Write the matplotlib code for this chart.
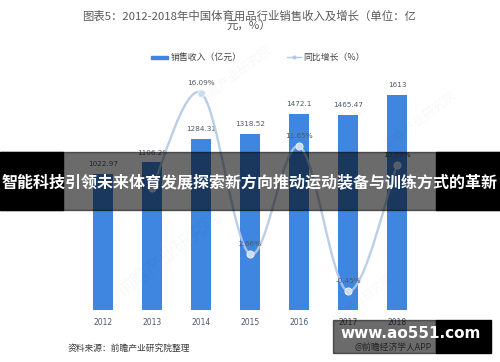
import matplotlib
matplotlib.use("Agg")
import matplotlib.pyplot as plt
from matplotlib.path import Path
from matplotlib.patches import PathPatch, Rectangle
import numpy as np

plt.rcParams['font.family'] = ['Noto Sans CJK SC', 'DejaVu Sans']

years = ["2012", "2013", "2014", "2015", "2016", "2017", "2018"]
revenue = [1022.97, 1106.29, 1284.31, 1318.52, 1472.1, 1465.47, 1613]
growth_years = ["2013", "2014", "2015", "2016", "2017", "2018"]
growth = [8.14, 16.09, 2.66, 11.65, -0.45, 10.07]

title = "图表5：2012-2018年中国体育用品行业销售收入及增长（单位：亿\n元，%）"
legend_bar = "销售收入（亿元）"
legend_line = "同比增长（%）"
source = "资料来源：前瞻产业研究院整理"
banner = "智能科技引领未来体育发展探索新方向推动运动装备与训练方式的革新"
site = "www.ao551.com"
app = "@前瞻经济学人APP"

W, H = 500, 362
fig = plt.figure(figsize=(W / 100, H / 100), dpi=100)

def fx(px):
    return px / W

def fy(py):
    return 1 - py / H

ax = fig.add_axes([fx(78.5), fy(310), fx(421.5) - fx(78.5), fy(70) - fy(310)])
ax2 = ax.twinx()

bar_color = "#3f86e0"
x = np.arange(len(years))
ax.bar(x, revenue, width=0.41, color=bar_color, zorder=2)
ax.set_xlim(-0.5, len(years) - 0.5)
ax.set_ylim(0, 1800)
ax2.set_ylim(-2, 18)
for a in (ax, ax2):
    for s in a.spines.values():
        s.set_visible(False)
    a.set_yticks([])
ax.set_xticks(x)
ax.set_xticklabels(years, fontsize=5.5, color="#4a5a70", family="DejaVu Sans")
ax.tick_params(axis="x", length=0, pad=6)

for xi, v in zip(x, revenue):
    ax.annotate(f"{v:g}", (xi, v), xytext=(0, 5), textcoords="offset points",
                ha="center", va="bottom", fontsize=5.2, color="#505a66",
                family="DejaVu Sans")

# smooth line (bezier rendering through the data points)
gx = np.array([years.index(g) for g in growth_years], dtype=float)
gy = np.array(growth, dtype=float)
pts = np.column_stack([gx, gy])
n = len(pts)
verts = [tuple(pts[0])]
codes = [Path.MOVETO]
sm = 1.0 / 6.0
for i in range(n - 1):
    p0 = pts[i - 1] if i > 0 else pts[i]
    p1 = pts[i]
    p2 = pts[i + 1]
    p3 = pts[i + 2] if i + 2 < n else pts[i + 1]
    c1 = p1 + (p2 - p0) * sm
    c2 = p2 - (p3 - p1) * sm
    verts += [tuple(c1), tuple(c2), tuple(p2)]
    codes += [Path.CURVE4, Path.CURVE4, Path.CURVE4]
line_color = "#b4c9e6"
ax2.add_patch(PathPatch(Path(verts, codes), facecolor="none", edgecolor=line_color,
                        lw=1.7, alpha=0.9, zorder=3, capstyle="round"))
ax2.plot(gx, gy, ls="none", marker="o", ms=5, mfc="#cddcf0", mec="#e6eef8",
         mew=0.8, zorder=4)
for xi, v in zip(gx, gy):
    ax2.annotate(f"{v:.2f}%", (xi, v), xytext=(0, 5), textcoords="offset points",
                 ha="center", va="bottom", fontsize=5.2, color="#505a66",
                 family="DejaVu Sans", zorder=5)

# title
fig.text(fx(249), fy(21), title, ha="center", va="center", fontsize=8.2,
         color="#5a5a5a", linespacing=0.95)

# legend
fig.patches.append(Rectangle((fx(151), fy(59)), fx(17), fy(55.5) - fy(59),
                             transform=fig.transFigure, color=bar_color))
fig.text(fx(171), fy(57), legend_bar, ha="left", va="center", fontsize=6.4, color="#444444")
fig.lines.append(plt.Line2D([fx(287), fx(301)], [fy(57), fy(57)], transform=fig.transFigure,
                            color=line_color, lw=1.0))
fig.lines.append(plt.Line2D([fx(294)], [fy(57)], transform=fig.transFigure, marker="o",
                            ms=2, color=line_color))
fig.text(fx(303), fy(57), legend_line, ha="left", va="center", fontsize=6.4, color="#444444")

# faint watermarks
for (wx, wy, sz) in [(235, 75, 9), (170, 255, 13), (420, 120, 9), (360, 300, 8)]:
    fig.text(fx(wx), fy(wy), "前瞻产业研究院", rotation=38, ha="center", va="center",
             fontsize=sz, color="#000000", alpha=0.03)

# source
fig.text(fx(68), fy(348), source, ha="left", va="center", fontsize=6.3, color="#3a3a3a")

# banner overlay
fig.patches.append(Rectangle((0, fy(210)), 1, fy(152) - fy(210), transform=fig.transFigure,
                             color="black", alpha=0.58, zorder=10))
fig.patches.append(Rectangle((0, fy(210)), fx(63), fy(152) - fy(210), transform=fig.transFigure,
                             color="black", zorder=10))
fig.patches.append(Rectangle((fx(436), fy(210)), 1 - fx(436), fy(152) - fy(210),
                             transform=fig.transFigure, color="black", zorder=10))
fig.text(0.5, fy(182), banner, ha="center", va="center", fontsize=11.5, color="white",
         fontweight="bold", zorder=11)

# site box
fig.text(fx(393), fy(347), app, ha="center", va="center", fontsize=6.3, color="#555555", zorder=9)
fig.patches.append(Rectangle((fx(333), fy(353)), fx(436) - fx(333), fy(320) - fy(353),
                             transform=fig.transFigure, color="black", alpha=0.58, zorder=10))
fig.patches.append(Rectangle((fx(436), fy(353)), fx(491) - fx(436), fy(320) - fy(353),
                             transform=fig.transFigure, color="black", zorder=10))
fig.text(fx(411), fy(334), site, ha="center", va="center", fontsize=11, color="white",
         fontweight="bold", family="DejaVu Sans", zorder=11)

fig.savefig("out.png", dpi=100)
